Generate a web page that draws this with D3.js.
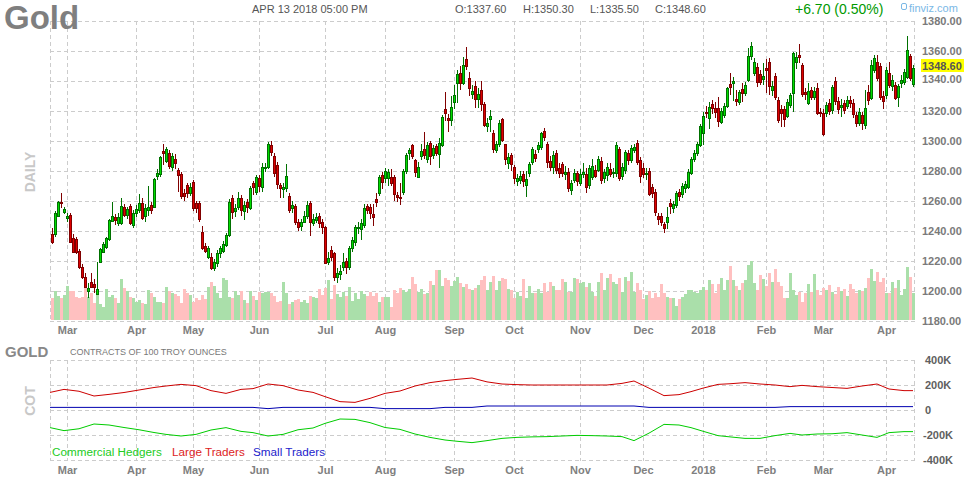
<!DOCTYPE html>
<html><head><meta charset="utf-8">
<script src="https://cdn.jsdelivr.net/npm/d3@7"></script>
<style>
body{margin:0;background:#fff;}
svg{display:block;font-family:"Liberation Sans",Arial,sans-serif;}
</style>
</head><body>
<svg id="chart" width="964" height="480"></svg>
<script>
// ---------- DATA ----------
const openP = [1237.8,1237.8,1250,1258.9,1252.7,1248.2,1250.5,1234.9,1234.3,1226.5,1216,1209,1200,1205.6,1204.3,1197.8,1219.4,1226,1228.9,1234.3,
1246.7,1248.9,1245,1245,1255.6,1250.5,1256.5,1243.8,1251.6,1253.8,1258.3,1250,1254,1257,1256,1276.5,1278,1293.3,1286.7,1292,
1282.7,1288,1280.5,1278,1265,1270.5,1265,1272.7,1258.3,1258.3,1239.4,1229.8,1222.7,1222.7,1215,1218.7,1224.9,1226.7,1230.5,1237.1,
1261.6,1253,1256,1262,1253,1259,1255,1271.6,1266,1275,1269.4,1281.6,1282.2,1297,1289.8,1283.8,1270.4,1267.5,1268.2,1263.1,
1255.3,1256.4,1246,1242.9,1246,1249.8,1258.2,1245,1247,1250,1246,1242.2,1219,1227.1,1224.9,1209,1211,1215.9,1219.6,1216,
1228.2,1232.7,1241.5,1241.3,1243.8,1256.2,1256,1251.2,1261.1,1264.9,1277,1274.9,1275,1275.5,1275.5,1263.8,1262.5,1265.5,1279.8,1291.6,
1297.1,1287.1,1276.1,1289.8,1294.2,1288,1298.4,1290.4,1296.4,1291.1,1297.1,1320.9,1314.9,1313.8,1326,1338.2,1345.3,1338.2,1354.2,1341.5,
1331.1,1336.4,1328,1333.8,1324.4,1309.8,1314.3,1305,1293.8,1297.6,1314.3,1297.6,1285,1290.5,1282.3,1273.2,1273.8,1277.6,1270.3,1278.3,
1285.6,1291,1294.3,1295.6,1306.7,1297.6,1286.7,1282.7,1292,1281.6,1284.5,1277.8,1278.9,1267.2,1273.8,1278.3,1271.6,1277.8,1277.8,1270.5,
1276.1,1280.5,1280.5,1286.7,1275,1277.2,1281,1278.3,1278.3,1294.3,1276.5,1280.5,1292,1287.2,1293.8,1298.3,1287.2,1281.6,1277.8,1280,
1269.4,1266,1249.8,1249.8,1244.5,1246,1258.3,1255,1257.2,1266,1264.5,1268.3,1269.4,1278.7,1287.6,1292,1297.2,1305,1319.4,1314.9,
1324.5,1321.6,1321.6,1312.7,1317.1,1323.1,1337.8,1338.2,1327.6,1326,1334.2,1332,1340.5,1356.5,1345.4,1348.9,1344.5,1340.9,1348.2,1352.2,
1333.8,1343.1,1327.1,1320.9,1320.9,1316.5,1323.8,1331.6,1352.2,1357.1,1350.5,1332.7,1325.4,1333.8,1329.4,1334.9,1319.4,1318.7,1318.2,1324.9,
1320.5,1340,1326.7,1322.7,1324.9,1323.1,1327.1,1325.4,1317.1,1312,1317.1,1310.5,1332.7,1328.2,1347.1,1352.7,1350,1329.8,1330.5,1345.4,
1336.4,1337.1,1328.9,1338.2,1339.4,1342.7,1356.5,1337.6];
const highP = [1242,1253,1260,1264.9,1256,1251.6,1251.6,1238,1236,1227.5,1217.5,1211.5,1205,1212,1207.5,1219.4,1228.5,1232.5,1236,1248,
1259,1251,1252,1262,1258,1256,1258,1254,1257,1264.5,1262,1258,1270,1259,1275,1281,1290,1297.8,1296,1294,
1292,1291,1282,1279,1268,1272,1272,1274,1260,1260,1243,1232,1230,1225,1221,1227,1230,1233,1238.5,1261,
1264,1258,1266,1264,1260,1261,1270,1273,1277,1277,1285,1285,1299,1300,1292,1286,1272,1272,1284.2,1265,
1260,1258,1248,1248,1253,1260,1260,1251,1252,1252,1248,1243,1226,1230,1226,1215,1217,1225,1222,1230,
1236,1244,1246,1248,1258,1258,1258,1258,1265.3,1277,1279,1282,1281,1281,1277,1266,1272,1281,1292,1295,
1298,1288,1286,1298,1306,1299,1300,1297,1298,1302,1317,1332.2,1318,1330,1337,1347,1350,1356,1362.7,1346,
1337,1340,1335,1340,1326,1315,1320.5,1307,1300,1313.8,1315,1298,1292,1292,1284,1278,1280,1280,1280,1286,
1296,1294,1299,1306,1308.3,1299,1290,1293,1294,1285,1286,1283,1282,1274,1281,1280,1281,1285,1282,1284,
1288,1284,1290,1289,1281,1285,1285,1282,1299,1296,1285,1294,1294,1297,1298,1300.5,1289,1285,1282,1282,
1271,1268,1252,1252,1246,1256,1261,1260,1266.5,1268,1272,1273,1281,1289,1294,1299,1311,1319,1323,1326,
1327,1326,1328.9,1322,1325,1336,1345.4,1342.7,1333.8,1334,1338.2,1339,1361.6,1365.8,1355,1351.6,1347,1351.6,1354.2,1354.9,
1340,1345,1329,1323.8,1323.1,1328,1332,1359.4,1359.4,1364.5,1352,1335,1338.2,1336,1336,1338.2,1322,1321,1326,1328,
1337,1342.7,1329,1328,1327,1330,1330,1328,1319,1322,1319,1334,1337.1,1353.8,1357.1,1357,1352,1333,1348.9,1352.2,
1344,1339,1338,1344,1348,1369.8,1358,1350.3];
const lowP = [1231,1236,1249,1255,1251,1246,1231.6,1225,1224.5,1214.5,1208,1202,1195,1201.5,1198.5,1197.2,1218.5,1225,1228,1233,
1245.5,1244,1243,1244,1249,1248,1243.5,1242,1249,1252,1247,1246,1250,1251,1255,1274,1276,1283.8,1285,1281,
1280,1281,1266,1261,1260,1262,1263,1253,1252,1246,1227,1225,1221,1213.5,1213,1216,1222,1225,1229,1236,
1248,1249,1254,1250,1247,1252,1254,1264,1264,1266,1266,1279,1281,1290,1276,1268,1262,1262,1266,1252,
1252,1244,1240,1240,1245,1248,1236.4,1243,1245,1242,1238,1218,1217,1220,1206.6,1204.9,1207,1213,1211,1214,
1226,1230,1238,1233.9,1242,1251,1248,1243,1256,1263,1268,1272,1270,1270,1260,1259,1257,1264,1278,1287,
1288,1276,1275,1287,1288,1285,1284,1288,1290,1281.6,1296,1313,1306,1310,1321,1325,1334,1337,1347,1330,
1328,1322,1322,1320,1309,1306,1306,1292,1292,1296,1299.4,1284,1281,1280,1271,1270,1271,1269,1262.7,1276,
1284,1286,1292,1294,1300,1282,1280,1278,1278,1275,1276,1274,1266,1264,1272,1270,1270,1275,1265,1268,
1274,1275,1279,1271,1272,1273,1276,1275,1276,1273,1274,1278,1284,1285,1292,1284,1272,1275,1274,1263,
1262,1250,1244,1243,1238.7,1241,1251,1252,1255,1260,1262,1265,1268,1277,1286,1290,1296,1297,1315,1307.6,
1318,1315,1309.4,1311,1315,1322,1330.5,1326.7,1323.1,1324,1326,1330,1339,1354,1343,1336,1337,1337.1,1331.6,1330.5,
1330,1327,1312,1308.9,1308.9,1315,1322,1319.4,1347.6,1352,1329,1327,1323.8,1327,1327,1317.1,1316,1303.1,1316,1317,
1318,1324,1318,1316,1318,1321,1322,1315,1308.9,1310,1307.1,1308,1323.8,1327,1345,1340,1327,1321,1328,1335,
1333,1327,1322.7,1335,1337,1341,1340,1335.5];
const closeP = [1232.7,1251.6,1258.9,1258.2,1254.2,1250,1232.7,1226,1225.6,1216,1209,1202.7,1201.6,1202.7,1202.3,1201,1227.6,1231.2,1234.9,1247.2,
1250,1247.2,1249.4,1256.5,1250.5,1254.3,1245,1251.6,1254.3,1258.7,1248.3,1255,1256,1254,1274.2,1278.2,1289,1291.6,1294.4,1283.1,
1289.8,1285,1277,1263,1263,1265,1269.4,1255,1255,1248,1228.3,1226.5,1228.3,1215,1219,1225.4,1228.3,1231.1,1237.1,1259.4,
1252.7,1255,1262,1254,1257,1256,1268.2,1269.4,1275.6,1270,1282.7,1282.7,1297.8,1292.7,1278.7,1271.1,1268.2,1269.3,1276.4,1253.8,
1257.1,1246,1242.7,1245.8,1249.8,1257.1,1246,1247.6,1249.3,1245,1242.2,1218.7,1222,1222.7,1209.3,1212,1213.3,1219.4,1216,1228.2,
1234.1,1242.2,1242.2,1245.3,1254.9,1254,1251.6,1249,1259.3,1275.5,1272.6,1279.8,1279,1272,1264.4,1262.7,1262,1279.8,1290.4,1294,
1290,1279.3,1282.8,1293.1,1290.4,1297,1289.8,1295.1,1291.8,1298.2,1315.5,1318.2,1313.8,1322.2,1330.4,1344.4,1338.2,1350.4,1349.8,1334.9,
1333.3,1327.5,1331,1324.4,1310.4,1311.6,1316.5,1294.3,1297.6,1311.6,1300.5,1287.6,1289,1284.5,1275.4,1275,1276.7,1273.2,1274.5,1284.5,
1294.3,1288.3,1297.2,1305,1302.3,1285.6,1282.3,1290.5,1280.5,1278.3,1278.3,1279.4,1268.7,1272.1,1278.3,1273.4,1277.8,1279.4,1269,1281.6,
1283.2,1276.5,1287.6,1273.8,1279,1282.7,1277.8,1279.4,1297.2,1275,1282.3,1292.7,1287.2,1295,1295.6,1285.6,1276.5,1277.8,1278.8,1264.3,
1265.4,1252.7,1247.6,1246,1241.6,1249.4,1256.5,1257.8,1265.4,1263.2,1269.8,1271.2,1279.4,1287.6,1292,1297.8,1309.8,1316.5,1318.2,1322.2,
1321.6,1319.4,1313.3,1320,1323.1,1334.9,1336,1339.8,1326.7,1332.7,1331.6,1337.1,1356.5,1363.1,1352.2,1339.4,1339.4,1343.1,1347.1,1336.7,
1336.4,1328.9,1313.8,1318.2,1314.2,1326,1330.5,1358.2,1355.6,1355.6,1331.1,1331.1,1333.1,1329.4,1333.1,1318.7,1318.2,1304.5,1323.8,1319.8,
1335.6,1326.7,1320.9,1323.8,1320.5,1327.1,1325.4,1317.8,1311.6,1319.4,1311.6,1321.6,1327.1,1350.5,1354.9,1341.6,1329.4,1326.7,1347.1,1337.1,
1340.5,1328.2,1336.4,1340.5,1346,1360.5,1341.6,1348.6];
const volume = [217,293,240,217,250,340,293,293,233,223,233,317,233,267,167,307,160,133,307,233,
250,217,173,407,317,290,233,217,183,200,173,160,300,273,233,183,183,173,333,293,
267,260,240,173,307,273,250,183,217,200,250,207,333,383,340,273,217,417,400,233,
217,293,250,293,200,173,293,240,200,283,267,283,
283,273,240,183,193,383,273,160,183,200,207,183,200,173,240,227,217,307,250,317,
400,207,350,260,233,283,240,333,193,273,207,293,260,240,283,240,273,183,233,227,
233,133,300,267,317,300,283,307,433,360,283,307,260,273,393,350,500,500,340,417,
400,340,393,427,367,333,360,307,300,320,350,400,440,
300,380,440,300,390,420,410,310,300,220,280,240,410,220,340,270,270,310,270,370,
280,380,340,300,300,410,380,280,280,420,410,370,380,330,370,280,240,380,470,300,
420,460,380,360,420,280,430,390,480,280,370,300,210,250,290,220,270,230,360,270,
230,220,220,140,210,230,260,300,300,280,270,300,330,
300,400,360,270,360,420,300,400,540,400,340,300,370,400,550,590,370,300,450,410,
340,470,380,510,380,340,220,220,470,300,250,280,180,270,360,280,460,300,250,320,
300,350,280,260,330,290,310,
240,360,310,270,300,290,320,420,510,390,480,380,420,270,270,380,320,400,250,310,
530,430,270];
const holidays = ["2017-04-14","2017-05-29","2017-07-04","2017-09-04","2017-11-23",
                  "2017-12-25","2018-01-01","2018-01-15","2018-02-19","2018-03-30"];
const firstDay = "2017-02-22";
const monthLabels = ["Mar","Apr","May","Jun","Jul","Aug","Sep","Oct","Nov","Dec","2018","Feb","Mar","Apr"];
const priceTicks = [1180,1200,1220,1240,1260,1280,1300,1320,1340,1360,1380];
const cotTicks = [400,200,0,-200,-400];
const cotTickLabels = ["400K","200K","0","-200K","-400K"];
const cotWeeks = ["2017-02-21","2017-02-28","2017-03-07","2017-03-14","2017-03-21","2017-03-28","2017-04-04","2017-04-11","2017-04-18","2017-04-25",
"2017-05-02","2017-05-09","2017-05-16","2017-05-23","2017-05-30","2017-06-06","2017-06-13","2017-06-20","2017-06-27","2017-07-03",
"2017-07-11","2017-07-18","2017-07-25","2017-08-01","2017-08-08","2017-08-15","2017-08-22","2017-08-29","2017-09-05","2017-09-12",
"2017-09-19","2017-09-26","2017-10-03","2017-10-10","2017-10-17","2017-10-24","2017-10-31","2017-11-07","2017-11-14","2017-11-21",
"2017-11-28","2017-12-05","2017-12-12","2017-12-19","2017-12-26","2018-01-02","2018-01-09","2018-01-16","2018-01-23","2018-01-30",
"2018-02-06","2018-02-13","2018-02-20","2018-02-27","2018-03-06","2018-03-13","2018-03-20","2018-03-27","2018-04-03","2018-04-10"];
const cotLarge = [139,165,150,112,125,140,160,180,192,205,195,155,133,165,171,208,195,160,141,107,
67,61,93,133,152,192,219,235,245,256,225,208,203,200,200,200,200,200,200,213,
232,175,115,123,147,175,205,210,219,208,200,187,197,187,180,173,192,208,168,155];
const cotCommercial = [-139,-165,-150,-112,-120,-140,-158,-180,-195,-208,-195,-160,-141,-171,-181,-208,-195,-158,-144,-107,
-72,-75,-101,-140,-155,-192,-219,-240,-250,-261,-245,-227,-219,-215,-213,-208,-203,-205,-208,-213,
-245,-185,-115,-120,-141,-170,-205,-215,-227,-227,-205,-187,-200,-192,-190,-181,-200,-219,-181,-173];
const cotSmall = [21,21,21,21,21,21,21,21,21,21,21,21,21,21,21,11,21,21,21,21,
21,21,21,11,11,11,11,21,21,21,32,32,32,32,32,32,32,32,32,32,
32,21,21,21,21,21,21,21,21,21,21,27,27,27,27,27,27,27,27,27];

// ---------- HEADER VALUES ----------
const title = "Gold";
const stamp = "APR 13 2018 05:00 PM";
const ohlcText = [["O:1337.60",455],["H:1350.30",523],["L:1335.50",590],["C:1348.60",655]];
const changeText = "+6.70 (0.50%)";
const lastPrice = 1348.60;

// ---------- CALENDAR ----------
const fmt = d3.timeFormat("%Y-%m-%d");
const parse = d3.timeParse("%Y-%m-%d");
const dates = [];
{
  let d = parse(firstDay);
  while (dates.length < closeP.length) {
    const dow = d.getDay();
    if (dow !== 0 && dow !== 6 && !holidays.includes(fmt(d))) dates.push(new Date(d));
    d = d3.timeDay.offset(d, 1);
  }
}
const data = dates.map((d, i) => ({i, d, o: openP[i], h: highP[i], l: lowP[i], c: closeP[i], v: volume[i]}));
const monthStarts = [];
for (let i = 1; i < dates.length; i++) if (dates[i].getMonth() !== dates[i-1].getMonth()) monthStarts.push(i);

// ---------- SCALES ----------
const L = 50, R = 915;
const x = d3.scaleLinear().domain([-2/3, dates.length - 1 + 2/3]).range([L, R]);
const y = d3.scaleLinear().domain([1180, 1380]).range([320.7, 20.7]);
const yv = d3.scaleLinear().domain([0, 600]).range([320, 260]);
const yc = d3.scaleLinear().domain([-400, 400]).range([460, 360]);
const cx = i => Math.round(x(i));

const svg = d3.select("#chart");
const grid = "#cccccc";

// ---------- PRICE PANEL GRID ----------
const gP = svg.append("g").attr("shape-rendering", "crispEdges");
priceTicks.forEach(t => {
  gP.append("line").attr("x1", L).attr("x2", R).attr("y1", Math.round(y(t)) + 0.5).attr("y2", Math.round(y(t)) + 0.5)
    .attr("stroke", grid).attr("stroke-dasharray", "4,3");
});
[L, R - 1].concat(monthStarts.map(cx)).forEach(px => {
  gP.append("line").attr("x1", px + 0.5).attr("x2", px + 0.5).attr("y1", 21).attr("y2", 321)
    .attr("stroke", grid).attr("stroke-dasharray", "4,3");
});

// ---------- VOLUME ----------
const gV = svg.append("g").attr("shape-rendering", "crispEdges");
gV.selectAll("rect").data(data).join("rect")
  .attr("x", d => cx(d.i) - 1).attr("width", 3)
  .attr("y", d => Math.round(yv(d.v))).attr("height", d => 320 - Math.round(yv(d.v)))
  .attr("fill", d => d.c >= d.o ? "#aadfaa" : "#ffc0c0");

// ---------- CANDLES ----------
const gC = svg.append("g").attr("shape-rendering", "crispEdges");
data.forEach(d => {
  const up = d.c >= d.o;
  const dark = up ? "#007000" : "#800000";
  const bright = up ? "#00dd00" : "#dd0000";
  const c = cx(d.i);
  const yh = Math.round(y(d.h)), yl = Math.round(y(d.l));
  gC.append("rect").attr("x", c).attr("width", 1).attr("y", yh).attr("height", Math.max(1, yl - yh)).attr("fill", dark);
  const t = Math.round(y(Math.max(d.o, d.c))), b = Math.round(y(Math.min(d.o, d.c)));
  const hh = Math.max(2, b - t + 1);
  gC.append("rect").attr("x", c - 1).attr("width", 3).attr("y", t).attr("height", hh).attr("fill", dark);
  if (hh > 2) gC.append("rect").attr("x", c).attr("width", 1).attr("y", t + 1).attr("height", hh - 2).attr("fill", bright);
});

// ---------- PRICE AXIS ----------
const gA = svg.append("g").attr("font-size", 11).attr("font-weight", "bold").attr("fill", "#7a7a7a");
priceTicks.forEach(t => {
  if (t === 1340) return;
  gA.append("text").attr("x", 922).attr("y", y(t) + 4).text(t.toFixed(2));
});
gA.append("text").attr("x", 922).attr("y", y(1340) + 2).text((1340).toFixed(2));
svg.append("rect").attr("x", 921).attr("y", 59).attr("width", 43).attr("height", 13).attr("fill", "#ffff00");
svg.append("text").attr("x", 922).attr("y", 69.5).attr("font-size", 11).attr("font-weight", "bold")
  .attr("fill", "#555").text(lastPrice.toFixed(2));

// month labels (price panel and COT panel)
const gM = svg.append("g").attr("font-size", 11).attr("font-weight", "bold").attr("fill", "#808080").attr("text-anchor", "middle");
monthStarts.forEach((i, k) => {
  gM.append("text").attr("x", cx(i) + 0.5).attr("y", 334).text(monthLabels[k]);
  gM.append("text").attr("x", cx(i) + 0.5).attr("y", 474).text(monthLabels[k]);
});

// ---------- HEADER ----------
svg.append("text").attr("x", 4).attr("y", 29).attr("font-size", 33).attr("font-weight", "bold").attr("fill", "#7f7f7f").text(title);
svg.append("text").attr("x", 252).attr("y", 13).attr("font-size", 11).attr("fill", "#555").text(stamp);
ohlcText.forEach(([t, px]) => svg.append("text").attr("x", px).attr("y", 13).attr("font-size", 11).attr("fill", "#555").text(t));
svg.append("text").attr("x", 795).attr("y", 14).attr("font-size", 14).attr("fill", "#009900").text(changeText);
svg.append("rect").attr("x", 901.5).attr("y", 3.5).attr("width", 5).attr("height", 6).attr("rx", 1.5)
  .attr("fill", "none").attr("stroke", "#7ab8e6");
svg.append("text").attr("x", 909).attr("y", 12).attr("font-size", 11).attr("fill", "#7ab8e6").text("finviz.com");

svg.append("text").attr("transform", "translate(35,172) rotate(-90)").attr("text-anchor", "middle")
  .attr("font-size", 14).attr("font-weight", "bold").attr("fill", "#c8c8c8").text("DAILY");

// ---------- COT PANEL ----------
svg.append("text").attr("x", 5).attr("y", 357).attr("font-size", 15).attr("font-weight", "bold").attr("fill", "#888").text("GOLD");
svg.append("text").attr("x", 70).attr("y", 355).attr("font-size", 9).attr("fill", "#777").text("CONTRACTS OF 100 TROY OUNCES");
svg.append("text").attr("transform", "translate(35,401) rotate(-90)").attr("text-anchor", "middle")
  .attr("font-size", 14).attr("font-weight", "bold").attr("fill", "#c8c8c8").text("COT");

const gG = svg.append("g").attr("shape-rendering", "crispEdges");
cotTicks.forEach(t => {
  gG.append("line").attr("x1", L).attr("x2", R).attr("y1", Math.round(yc(t)) + 0.5).attr("y2", Math.round(yc(t)) + 0.5)
    .attr("stroke", grid).attr("stroke-dasharray", "4,3");
});
[L, R - 1].concat(monthStarts.map(cx)).forEach(px => {
  gG.append("line").attr("x1", px + 0.5).attr("x2", px + 0.5).attr("y1", 360).attr("y2", 461)
    .attr("stroke", grid).attr("stroke-dasharray", "4,3");
});
const gCA = svg.append("g").attr("font-size", 11).attr("font-weight", "bold").attr("fill", "#606060");
cotTicks.forEach((t, k) => gCA.append("text").attr("x", t < 0 ? 923 : 925).attr("y", yc(t) + 4).text(cotTickLabels[k]));

const cotIdx = cotWeeks.map(s => {
  const wd = parse(s);
  if (wd < dates[0]) return -1;
  return dates.findIndex(d => d >= wd);
});
svg.append("clipPath").attr("id", "cotclip").append("rect").attr("x", L).attr("y", 340).attr("width", R - L).attr("height", 130);
const lineGen = d3.line().x(d => x(d[0])).y(d => yc(d[1]));
const series = [[cotLarge, "#cc0000"], [cotSmall, "#0000b0"], [cotCommercial, "#00cc00"]];
series.forEach(([vals, col]) => {
  const pts = cotIdx.map((ix, k) => [ix, vals[k]]);
  pts.push([dates.length - 1, vals[vals.length - 1]]);
  svg.append("path").attr("d", lineGen(pts)).attr("fill", "none").attr("stroke", col).attr("stroke-width", 1)
    .attr("clip-path", "url(#cotclip)");
});
const legend = [["Commercial Hedgers", "#22cc22", 52], ["Large Traders", "#dd2222", 172], ["Small Traders", "#2222cc", 253]];
legend.forEach(([t, c, px]) => svg.append("text").attr("x", px).attr("y", 456).attr("font-size", 11.7).attr("fill", c).text(t));
</script>
</body></html>
